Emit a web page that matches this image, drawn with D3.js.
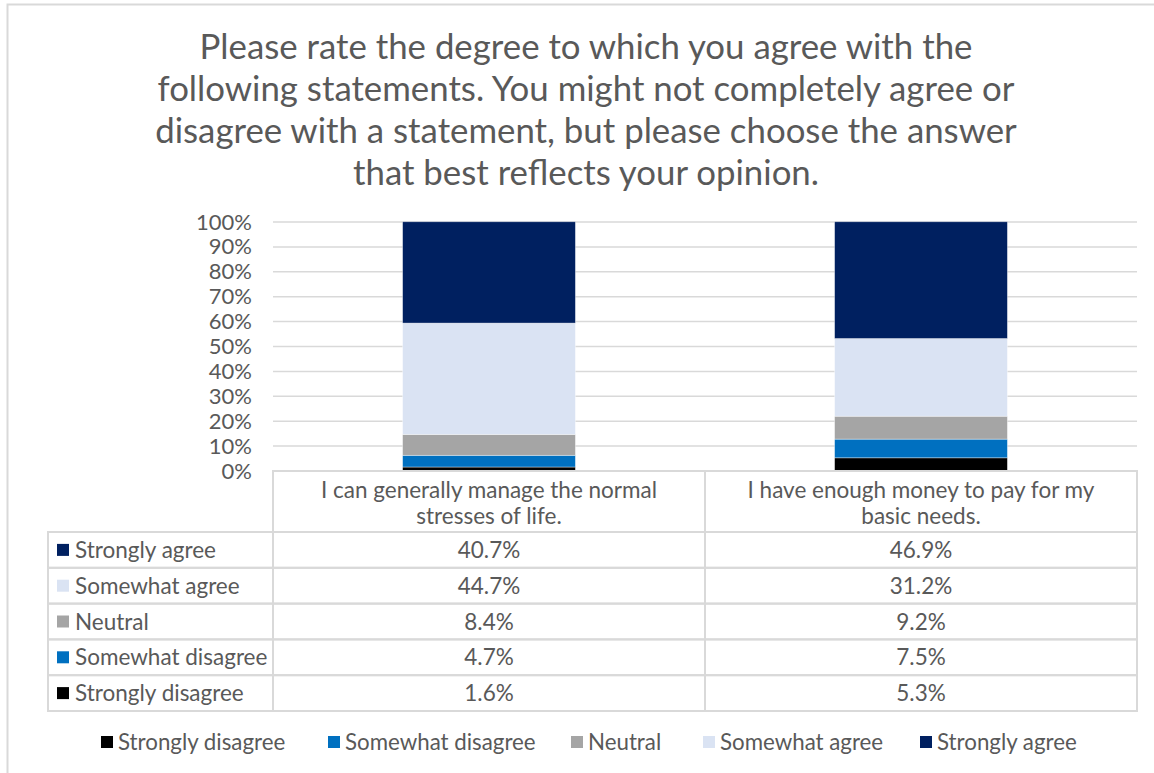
<!DOCTYPE html>
<html>
<head>
<meta charset="utf-8">
<script src="https://cdn.jsdelivr.net/npm/d3@7"></script>
<style>
  html, body { margin: 0; padding: 0; background: #fff; }
  svg { display: block; font-family: Lato, "Open Sans", sans-serif; }
</style>
</head>
<body>
<svg id="chart" width="1154" height="773"></svg>
<script>
// Survey statements (x categories)
const categories = [
  ["I can generally manage the normal", "stresses of life."],
  ["I have enough money to pay for my", "basic needs."]
];
// Response levels, stacked bottom to top
const seriesNames = ["Strongly disagree", "Somewhat disagree", "Neutral", "Somewhat agree", "Strongly agree"];
const seriesColors = ["#000000", "#0070C0", "#A5A5A5", "#DAE3F3", "#002060"];
// Percent share of each level, per statement
const stronglyDisagree = [1.6, 5.3];
const somewhatDisagree = [4.7, 7.5];
const neutral = [8.4, 9.2];
const somewhatAgree = [44.7, 31.2];
const stronglyAgree = [40.7, 46.9];
const yTicks = [0, 10, 20, 30, 40, 50, 60, 70, 80, 90, 100];
const titleLines = [
  "Please rate the degree to which you agree with the",
  "following statements. You might not completely agree or",
  "disagree with a statement, but please choose the answer",
  "that best reflects your opinion."
];

const seriesValues = [stronglyDisagree, somewhatDisagree, neutral, somewhatAgree, stronglyAgree];
const textColor = "#595959";
const gridColor = "#D9D9D9";

const svg = d3.select("#chart");

// Outer frame of the chart
svg.append("path")
  .attr("d", "M7.5,773 L7.5,4.5 L1154,4.5")
  .attr("fill", "none").attr("stroke", gridColor).attr("stroke-width", 2);

// Title
svg.append("g").selectAll("text").data(titleLines).join("text")
  .attr("x", 586).attr("y", (d, i) => 59 + i * 42)
  .attr("text-anchor", "middle")
  .attr("font-size", 34.8).attr("fill", textColor)
  .text(d => d);

const plotLeft = 273, plotRight = 1137, plotTop = 222, plotBottom = 471;

const x = d3.scaleBand().domain(d3.range(categories.length))
  .range([plotLeft, plotRight]).paddingInner(0.6).paddingOuter(0.3);
const colX = d3.scaleBand().domain(d3.range(categories.length)).range([plotLeft, plotRight]);
const y = d3.scaleLinear().domain([0, 100]).range([plotBottom, plotTop]);

// Gridlines
svg.append("g").selectAll("line").data(yTicks).join("line")
  .attr("x1", plotLeft).attr("x2", plotRight)
  .attr("y1", d => y(d)).attr("y2", d => y(d))
  .attr("stroke", gridColor).attr("stroke-width", 1.5);

// Y axis tick labels
const yAxis = d3.axisLeft(y).tickValues(yTicks).tickFormat(d => d + "%").tickSize(0).tickPadding(0);
const yg = svg.append("g").attr("transform", `translate(252,0)`).call(yAxis);
yg.select(".domain").remove();
yg.selectAll("text").attr("font-size", 22).attr("fill", textColor)
  .attr("font-family", "Lato, 'Open Sans', sans-serif");

// Stacked bars
const table = categories.map((c, i) => {
  const row = { idx: i };
  seriesNames.forEach((s, k) => row[s] = seriesValues[k][i]);
  return row;
});
const stacked = d3.stack().keys(seriesNames)(table);
svg.append("g").selectAll("g").data(stacked).join("g")
  .attr("fill", (d, i) => seriesColors[i])
  .selectAll("rect").data(d => d).join("rect")
  .attr("x", d => x(d.data.idx))
  .attr("width", x.bandwidth())
  .attr("y", d => y(d[1]))
  .attr("height", d => y(d[0]) - y(d[1]))
  .attr("stroke", "#ffffff").attr("stroke-opacity", 0.5).attr("stroke-width", 0.75);

// Data table under the plot
const headerTop = 471, headerBottom = 532, rowH = 35.8;
const tableLeft = 48;
const fs = 22.5;
const rowOrder = [4, 3, 2, 1, 0]; // top row is Strongly agree
const tg = svg.append("g");
const lineStyle = sel => sel.attr("stroke", gridColor).attr("stroke-width", 2).attr("fill", "none");

// Header cells
categories.forEach((c, i) => {
  tg.append("rect").attr("x", colX(i)).attr("y", headerTop)
    .attr("width", colX.bandwidth()).attr("height", headerBottom - headerTop).call(lineStyle);
  c.forEach((line, j) => {
    tg.append("text").attr("x", colX(i) + colX.bandwidth() / 2).attr("y", 498 + j * 26)
      .attr("text-anchor", "middle").attr("font-size", fs).attr("fill", textColor).text(line);
  });
});

// Value rows
rowOrder.forEach((k, r) => {
  const top = headerBottom + r * rowH;
  tg.append("rect").attr("x", tableLeft).attr("y", top)
    .attr("width", plotLeft - tableLeft).attr("height", rowH).call(lineStyle);
  tg.append("rect").attr("x", 57).attr("y", top + rowH / 2 - 6)
    .attr("width", 12).attr("height", 12).attr("fill", seriesColors[k]);
  tg.append("text").attr("x", 75).attr("y", top + rowH / 2 + 8)
    .attr("font-size", fs).attr("fill", textColor).text(seriesNames[k]);
  categories.forEach((c, i) => {
    tg.append("rect").attr("x", colX(i)).attr("y", top)
      .attr("width", colX.bandwidth()).attr("height", rowH).call(lineStyle);
    tg.append("text").attr("x", colX(i) + colX.bandwidth() / 2).attr("y", top + rowH / 2 + 8)
      .attr("text-anchor", "middle").attr("font-size", fs).attr("fill", textColor)
      .text(seriesValues[k][i].toFixed(1) + "%");
  });
});

// Legend
const legendX = [101, 328, 571, 703, 920];
const lg = svg.append("g").selectAll("g").data(seriesNames).join("g")
  .attr("transform", (d, i) => `translate(${legendX[i]},742)`);
lg.append("rect").attr("x", 0).attr("y", -6).attr("width", 12).attr("height", 12)
  .attr("fill", (d, i) => seriesColors[i]);
lg.append("text").attr("x", 17).attr("y", 8).attr("font-size", 22.3).attr("fill", textColor).text(d => d);
</script>
</body>
</html>
